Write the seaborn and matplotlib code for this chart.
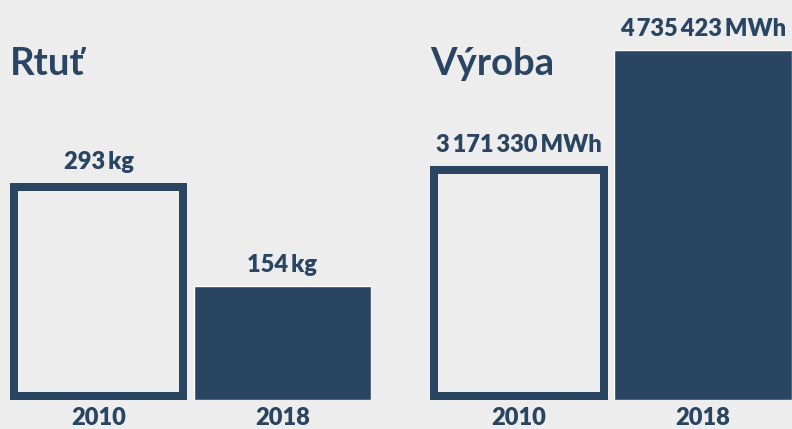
import matplotlib
matplotlib.use("Agg")
import matplotlib.pyplot as plt
import seaborn as sns

# data
years = ["2010", "2018"]
rtut_kg = [293, 154]
vyroba_mwh = [3171330, 4735423]
panel_titles = ["Rtuť", "Výroba"]
units = ["kg", "MWh"]

NAVY = "#2a4562"
BG = "#ededed"
WEIGHT = "heavy"


def fmt(v, unit):
    # užší mezera jako oddělovač tisíců
    return f"{v:,}".replace(",", "\u2009") + "\u2009" + unit


def draw_panel(ax, values, title, unit, ymax):
    w = 0.967
    sns.barplot(x=years, y=values, ax=ax, color=NAVY, width=w, saturation=1)
    ax.set_facecolor(BG)
    # první sloupec jen obrys (vnitřní tah)
    p = ax.patches[0]
    p.set_facecolor(BG)
    p.set_edgecolor(NAVY)
    p.set_linewidth(16 * 72 / 100)
    p.set_clip_path(p)
    ax.bar_label(ax.containers[0], labels=[fmt(v, unit) for v in values],
                 padding=7, color=NAVY, fontsize=17, fontweight=WEIGHT)
    ax.set_xlim(-w / 2, 1 + w / 2)
    ax.set_ylim(0, ymax)
    ax.set_yticks([])
    ax.set_ylabel("")
    ax.tick_params(axis="x", length=0, pad=5, labelsize=17, labelcolor=NAVY)
    for lbl in ax.get_xticklabels():
        lbl.set_fontweight(WEIGHT)
    sns.despine(ax=ax, left=True, bottom=True)
    ax.text(0, 0.8125, title, transform=ax.transAxes, ha="left", va="baseline",
            fontsize=27.5, fontweight="bold", color=NAVY)


def main():
    sns.set_theme(style="white")
    plt.rcParams["font.family"] = ["Lato", "DejaVu Sans"]
    fig = plt.figure(figsize=(7.92, 4.29), dpi=100, facecolor=BG)
    ax1 = fig.add_axes([10 / 792, 29 / 429, 361 / 792, 400 / 429])
    ax2 = fig.add_axes([430 / 792, 29 / 429, 362 / 792, 400 / 429])
    draw_panel(ax1, rtut_kg, panel_titles[0], units[0], 540)
    draw_panel(ax2, vyroba_mwh, panel_titles[1], units[1], 5.41e6)
    fig.savefig("out.png", dpi=100, facecolor=BG)


if __name__ == "__main__":
    main()
